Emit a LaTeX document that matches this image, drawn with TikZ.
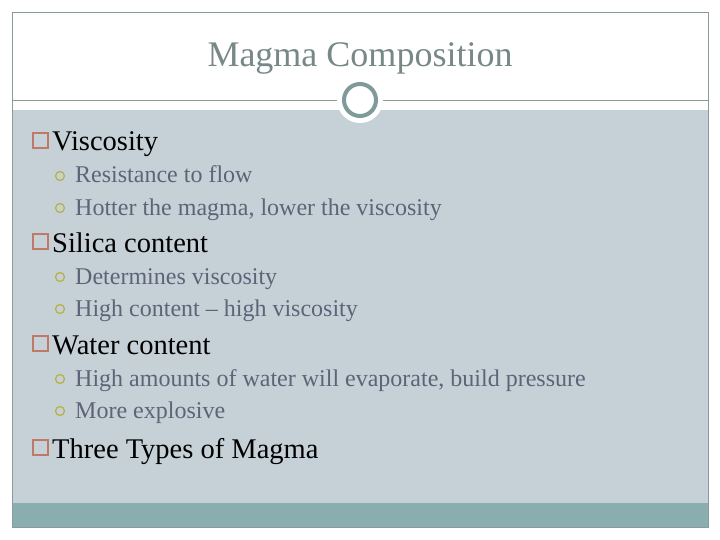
\documentclass[tikz,border=0pt]{standalone}
\usepackage{fontspec}
\setmainfont{Liberation Serif}
\definecolor{bodyg}{HTML}{C5D1D7}
\definecolor{teal}{HTML}{8AAEAF}
\definecolor{ringc}{HTML}{7E9A9A}
\definecolor{frame}{HTML}{8C9A9C}
\definecolor{titlec}{HTML}{788888}
\definecolor{subc}{HTML}{5E6478}
\definecolor{rust}{HTML}{C07868}
\definecolor{olive}{HTML}{B8B040}
\begin{document}
\begin{tikzpicture}[x=1pt,y=-1pt,
  mainb/.style={anchor=base west,font=\fontsize{28.5}{30}\selectfont,text=black,inner sep=0},
  subb/.style={anchor=base west,font=\fontsize{24}{26}\selectfont,text=subc,inner sep=0}]
\useasboundingbox (0,0) rectangle (720,540);
\fill[white] (0,0) rectangle (720,540);
\fill[bodyg] (12,110) rectangle (708,503);
\fill[teal] (12,503) rectangle (708,527);
\draw[frame,line width=0.8] (12,12) rectangle (708,527);
\draw[frame,line width=0.8] (12,100) -- (708,100);
\fill[white] (360,100) circle (23);
\draw[ringc,line width=4] (360,100) circle (16);
\node[anchor=base,font=\fontsize{36}{38}\selectfont,text=titlec] (title) at (360,67) {Magma Composition};
\foreach \y/\t [count=\i] in {151/Viscosity,252/Silica content,354/Water content,458/Three Types of Magma}{
  \draw[rust,line width=1.2] (33,\y-18) rectangle (48,\y-3);
  \node[mainb] (m\i) at (52,\y) {\t};
}
\foreach \y/\t [count=\i] in {183/Resistance to flow,215/{Hotter the magma, lower the viscosity},284/Determines viscosity,316/High content – high viscosity,386/{High amounts of water will evaporate, build pressure},418/More explosive}{
  \draw[olive,line width=1.2] (60,\y-7) circle (4.5);
  \node[subb] (s\i) at (75,\y) {\t};
}
\end{tikzpicture}
\end{document}
